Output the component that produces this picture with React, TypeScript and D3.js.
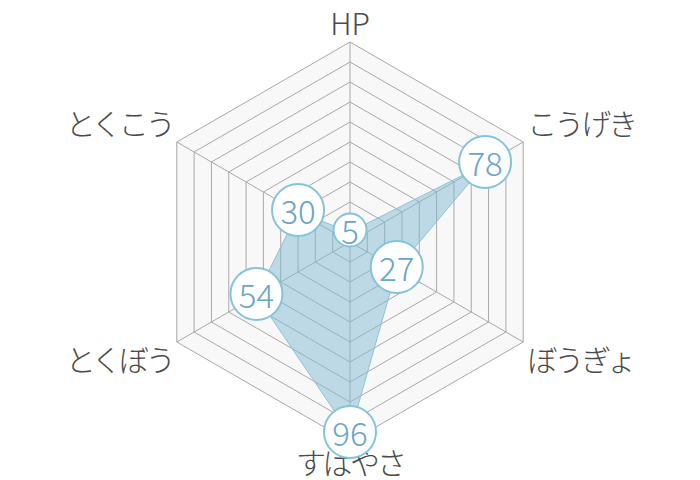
import { useEffect, useRef } from "react";
import * as d3 from "d3";

const labels = ["HP", "こうげき", "ぼうぎょ", "すばやさ", "とくぼう", "とくこう"];
const values = [5, 78, 27, 96, 54, 30];
const levels = [10, 20, 30, 40, 50, 60, 70, 80, 90, 100];

export default function App() {
    const chartRef = useRef<SVGSVGElement>(null);

    useEffect(() => {
        if (!chartRef.current) return;
        const root = d3.select(chartRef.current);
        root.selectAll("*").remove();

        const width = 700;
        const height = 480;
        const cx = 350;
        const cy = 242;
        const radius = 200;
        const font = "'Noto Sans CJK JP', 'Noto Sans', sans-serif";

        const r = d3.scaleLinear().domain([0, 100]).range([0, radius]);
        const angle = (i: number) => (i * 2 * Math.PI) / labels.length;
        const pt = (i: number, v: number): [number, number] => [
            cx + r(v) * Math.sin(angle(i)),
            cy - r(v) * Math.cos(angle(i)),
        ];

        const svg = root.attr("width", width).attr("height", height);
        const g = svg.append("g");

        // Grid background + rings
        const ringPath = (v: number) =>
            "M" + labels.map((_, i) => pt(i, v).join(",")).join("L") + "Z";

        g.append("path")
            .attr("d", ringPath(100))
            .attr("fill", "#f8f8f8");

        g.selectAll(".ring")
            .data(levels)
            .enter()
            .append("path")
            .attr("class", "ring")
            .attr("d", (d) => ringPath(d))
            .attr("fill", "none")
            .attr("stroke", "#a8a8a8")
            .attr("stroke-width", 1);

        g.selectAll(".spoke")
            .data(labels)
            .enter()
            .append("line")
            .attr("class", "spoke")
            .attr("x1", cx)
            .attr("y1", cy)
            .attr("x2", (_, i) => pt(i, 100)[0])
            .attr("y2", (_, i) => pt(i, 100)[1])
            .attr("stroke", "#a8a8a8")
            .attr("stroke-width", 1);

        // Data area
        const area = d3.line<number>()
            .x((d, i) => pt(i, d)[0])
            .y((d, i) => pt(i, d)[1])
            .curve(d3.curveLinearClosed);

        g.append("path")
            .attr("d", area(values))
            .attr("fill", "rgba(130, 186, 210, 0.5)")
            .attr("stroke", "#8cc3d8")
            .attr("stroke-width", 1);

        // Axis labels
        g.selectAll(".axis-label")
            .data(labels)
            .enter()
            .append("text")
            .attr("class", "axis-label")
            .attr("x", (_, i) => {
                const [x] = pt(i, 100);
                if (i === 0 || i === 3) return x;
                return i < 3 ? x + 4 : x - 4;
            })
            .attr("y", (_, i) => {
                const [, y] = pt(i, 100);
                if (i === 0) return y - 20;
                if (i === 3) return y + 19;
                return i === 1 || i === 5 ? y - 20 : y + 16;
            })
            .attr("text-anchor", (_, i) => (i === 0 || i === 3 ? "middle" : i < 3 ? "start" : "end"))
            .attr("dominant-baseline", "central")
            .attr("font-family", font)
            .attr("font-weight", 300)
            .attr("font-size", 30)
            .attr("letter-spacing", (d) => (d === "HP" ? 0 : -3))
            .attr("fill", "#4a4a4a")
            .text((d) => d);

        // Value bubbles (on top, as in the reference)
        const bubbles = g.selectAll(".bubble")
            .data(values)
            .enter()
            .append("g")
            .attr("class", "bubble")
            .attr("transform", (d, i) => {
                const [x, y] = pt(i, d);
                return `translate(${x},${y - 2})`;
            });

        bubbles.append("circle")
            .attr("r", (d) => (String(d).length > 1 ? 26 : 16.5))
            .attr("fill", "#fff")
            .attr("stroke", "#84c3da")
            .attr("stroke-width", 2);

        bubbles.append("text")
            .attr("text-anchor", "middle")
            .attr("dominant-baseline", "central")
            .attr("font-family", font)
            .attr("font-weight", 300)
            .attr("font-size", 33)
            .attr("fill", "#6aa6c6")
            .text((d) => d);
    }, []);

    return (
        <svg
            ref={chartRef}
            style={{ display: "block", position: "absolute", top: 0, left: 0 }}
        />
    );
}
